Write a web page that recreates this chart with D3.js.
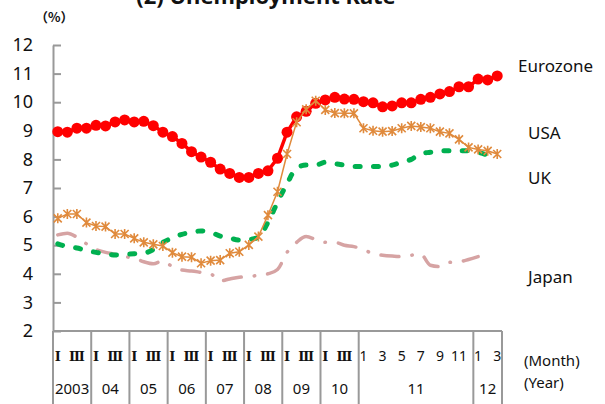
<!DOCTYPE html>
<html>
<head>
<meta charset="utf-8">
<script src="https://cdn.jsdelivr.net/npm/d3@7"></script>
<style>
  body { margin: 0; background: #fff; }
  svg text { font-family: "Noto Sans", sans-serif; fill: #111; }
</style>
</head>
<body>
<script>
var width = 605,
    height = 404;

// categories: 2003-2010 quarterly, 2011 monthly, 2012 Jan-Mar
var quarterYears = ['2003', '04', '05', '06', '07', '08', '09', '10'];
var quarterTicks = ['Ⅰ', '', 'Ⅲ', ''];
var monthYears = ['11', '12'];
var monthTicks = [['1', '', '3', '', '5', '', '7', '', '9', '', '11', ''], ['1', '', '3']];

var eurozone = [8.97, 8.95, 9.09, 9.09, 9.19, 9.17, 9.31, 9.38, 9.31, 9.33, 9.18, 8.95,
  8.80, 8.56, 8.27, 8.08, 7.90, 7.66, 7.51, 7.37, 7.37, 7.51, 7.60, 8.04,
  8.95, 9.49, 9.68, 9.96, 10.08, 10.17, 10.11, 10.10,
  10.02, 9.98, 9.84, 9.87, 9.98, 9.98, 10.10, 10.17, 10.29, 10.37, 10.54, 10.54,
  10.81, 10.78, 10.92];
var usa = [5.94, 6.09, 6.09, 5.79, 5.67, 5.65, 5.39, 5.39, 5.24, 5.10, 5.03, 4.97,
  4.74, 4.60, 4.58, 4.37, 4.46, 4.48, 4.72, 4.77, 5.01, 5.30, 6.05, 6.87,
  8.19, 9.30, 9.75, 10.05, 9.73, 9.62, 9.61, 9.61,
  9.09, 9.00, 8.97, 8.99, 9.09, 9.17, 9.13, 9.09, 8.97, 8.91, 8.70, 8.42,
  8.35, 8.30, 8.19];
var uk = [5.05, 4.95, 4.90, 4.82, 4.75, 4.70, 4.66, 4.68, 4.70, 4.72, 4.85, 5.10,
  5.25, 5.38, 5.45, 5.50, 5.45, 5.32, 5.25, 5.18, 5.20, 5.28, 5.80, 6.50,
  7.15, 7.70, 7.80, 7.80, 7.90, 7.85, 7.80, 7.75,
  7.75, 7.75, 7.75, 7.80, 7.90, 8.00, 8.20, 8.25, 8.30, 8.30, 8.30, 8.30,
  8.25, 8.15, null];
var japan = [5.36, 5.42, 5.28, 5.05, 4.85, 4.75, 4.68, 4.60, 4.55, 4.42, 4.35, 4.45,
  4.25, 4.13, 4.10, 4.05, 4.00, 3.75, 3.82, 3.88, 3.90, 3.95, 4.00, 4.15,
  4.75, 5.10, 5.30, 5.20, 5.10, 5.10, 5.00, 4.95,
  4.85, 4.70, 4.65, 4.62, 4.60, 4.65, 4.68, 4.30, 4.25, 4.40, 4.42, 4.50,
  4.60, null, null];

var yTicks = [2, 3, 4, 5, 6, 7, 8, 9, 10, 11, 12];

var categories = [];
quarterYears.forEach(function(yr) {
  quarterTicks.forEach(function(t) { categories.push({ year: yr, tick: t }); });
});
monthYears.forEach(function(yr, k) {
  monthTicks[k].forEach(function(t) { categories.push({ year: yr, tick: t }); });
});

var svg = d3.select('body')
  .append('svg')
  .attr('width', width)
  .attr('height', height);

var x = d3.scaleBand()
  .domain(d3.range(categories.length))
  .range([53, 502]);

var cx = function(i) { return x(i) + x.bandwidth() / 2; };

var y = d3.scaleLinear()
  .domain([2, 12])
  .range([331, 45]);

// title (cut off at the top in the original)
svg.append('text')
  .attr('x', 266)
  .attr('y', 4)
  .attr('text-anchor', 'middle')
  .style('font-size', '22px')
  .style('font-weight', 'bold')
  .text('(2) Unemployment Rate');

svg.append('text')
  .attr('x', 35)
  .attr('y', 22)
  .style('font-family', '"Noto Sans CJK JP", sans-serif')
  .style('font-size', '13px')
  .style('font-weight', 'bold')
  .text('（%）');

// y axis
var yAxis = svg.append('g')
  .attr('transform', 'translate(53,0)')
  .call(d3.axisLeft(y).tickValues(yTicks).tickSize(-8).tickSizeOuter(0).tickPadding(20));
yAxis.select('.domain').attr('stroke', '#999').attr('stroke-width', 2);
yAxis.selectAll('.tick line').attr('stroke', '#999').attr('stroke-width', 2);
yAxis.selectAll('.tick text')
  .attr('font-family', null)
  .style('font-size', '18px');

// category box below the plot
var axisBox = svg.append('g').attr('stroke', '#999').attr('stroke-width', 2);
axisBox.append('line')
  .attr('x1', 53).attr('x2', 502)
  .attr('y1', 331).attr('y2', 331);

var bounds = [0];
categories.forEach(function(c, i) {
  if (i > 0 && c.year !== categories[i - 1].year) bounds.push(i);
});
bounds.push(categories.length);

axisBox.selectAll('line.sep')
  .data(bounds)
  .enter()
  .append('line')
  .attr('class', 'sep')
  .attr('x1', function(b) { return b < categories.length ? x(b) : x(b - 1) + x.bandwidth(); })
  .attr('x2', function(b) { return b < categories.length ? x(b) : x(b - 1) + x.bandwidth(); })
  .attr('y1', 331)
  .attr('y2', height);

svg.selectAll('text.tick')
  .data(categories.map(function(c, i) { return { i: i, t: c.tick }; }).filter(function(d) { return d.t; }))
  .enter()
  .append('text')
  .attr('class', 'tick')
  .attr('x', function(d) { return cx(d.i); })
  .attr('y', 361)
  .attr('text-anchor', 'middle')
  .style('font-size', function(d) { return d.i < 32 ? '13px' : '14px'; })
  .style('font-weight', function(d) { return d.i < 32 ? 'bold' : 'normal'; })
  .style('font-family', function(d) { return d.i < 32 ? '"DejaVu Serif", serif' : null; })
  .text(function(d) { return d.t; });

var groups = bounds.slice(0, -1).map(function(b, k) {
  return { year: categories[b].year, x0: x(b), x1: x(bounds[k + 1] - 1) + x.bandwidth() };
});

svg.selectAll('text.year')
  .data(groups)
  .enter()
  .append('text')
  .attr('class', 'year')
  .attr('x', function(d) { return (d.x0 + d.x1) / 2; })
  .attr('y', 394)
  .attr('text-anchor', 'middle')
  .style('font-size', '15px')
  .text(function(d) { return d.year; });

svg.append('text').attr('x', 524).attr('y', 366).style('font-size', '15px').text('(Month)');
svg.append('text').attr('x', 524).attr('y', 388).style('font-size', '15px').text('(Year)');

// lines
var line = function(curve) {
  return d3.line()
    .defined(function(d) { return d != null; })
    .x(function(d, i) { return cx(i); })
    .y(function(d) { return y(d); })
    .curve(curve);
};

svg.append('path')
  .datum(japan)
  .attr('d', line(d3.curveMonotoneX))
  .attr('fill', 'none')
  .attr('stroke', '#d6a3a3')
  .attr('stroke-width', 3.5)
  .attr('stroke-linecap', 'round')
  .attr('stroke-dasharray', '18,13,0.5,13');

svg.append('path')
  .datum(uk)
  .attr('d', line(d3.curveMonotoneX))
  .attr('fill', 'none')
  .attr('stroke', '#00b050')
  .attr('stroke-width', 5)
  .attr('stroke-linecap', 'round')
  .attr('stroke-dasharray', '5,13.3');

svg.append('path')
  .datum(eurozone)
  .attr('d', line(d3.curveLinear))
  .attr('fill', 'none')
  .attr('stroke', '#ff0000')
  .attr('stroke-width', 3.5);

svg.append('g')
  .selectAll('circle')
  .data(eurozone)
  .enter()
  .append('circle')
  .attr('cx', function(d, i) { return cx(i); })
  .attr('cy', function(d) { return y(d); })
  .attr('r', 5.5)
  .attr('fill', '#ff0000');

svg.append('path')
  .datum(usa)
  .attr('d', line(d3.curveLinear))
  .attr('fill', 'none')
  .attr('stroke', '#e08a3c')
  .attr('stroke-width', 1.5);

var star = 'M-4,-4L4,4M-4,4L4,-4M0,-5L0,5';
svg.append('g')
  .selectAll('path')
  .data(usa)
  .enter()
  .append('path')
  .attr('d', star)
  .attr('transform', function(d, i) { return 'translate(' + cx(i) + ',' + y(d) + ')'; })
  .attr('fill', 'none')
  .attr('stroke', '#e08a3c')
  .attr('stroke-width', 1.6);

// series labels
var labels = [
  { name: 'Eurozone', x: 518, y: 72 },
  { name: 'USA', x: 528, y: 139 },
  { name: 'UK', x: 528, y: 184 },
  { name: 'Japan', x: 528, y: 283 }
];
svg.selectAll('text.series')
  .data(labels)
  .enter()
  .append('text')
  .attr('class', 'series')
  .attr('x', function(d) { return d.x; })
  .attr('y', function(d) { return d.y; })
  .style('font-size', '17px')
  .text(function(d) { return d.name; });
</script>
</body>
</html>
